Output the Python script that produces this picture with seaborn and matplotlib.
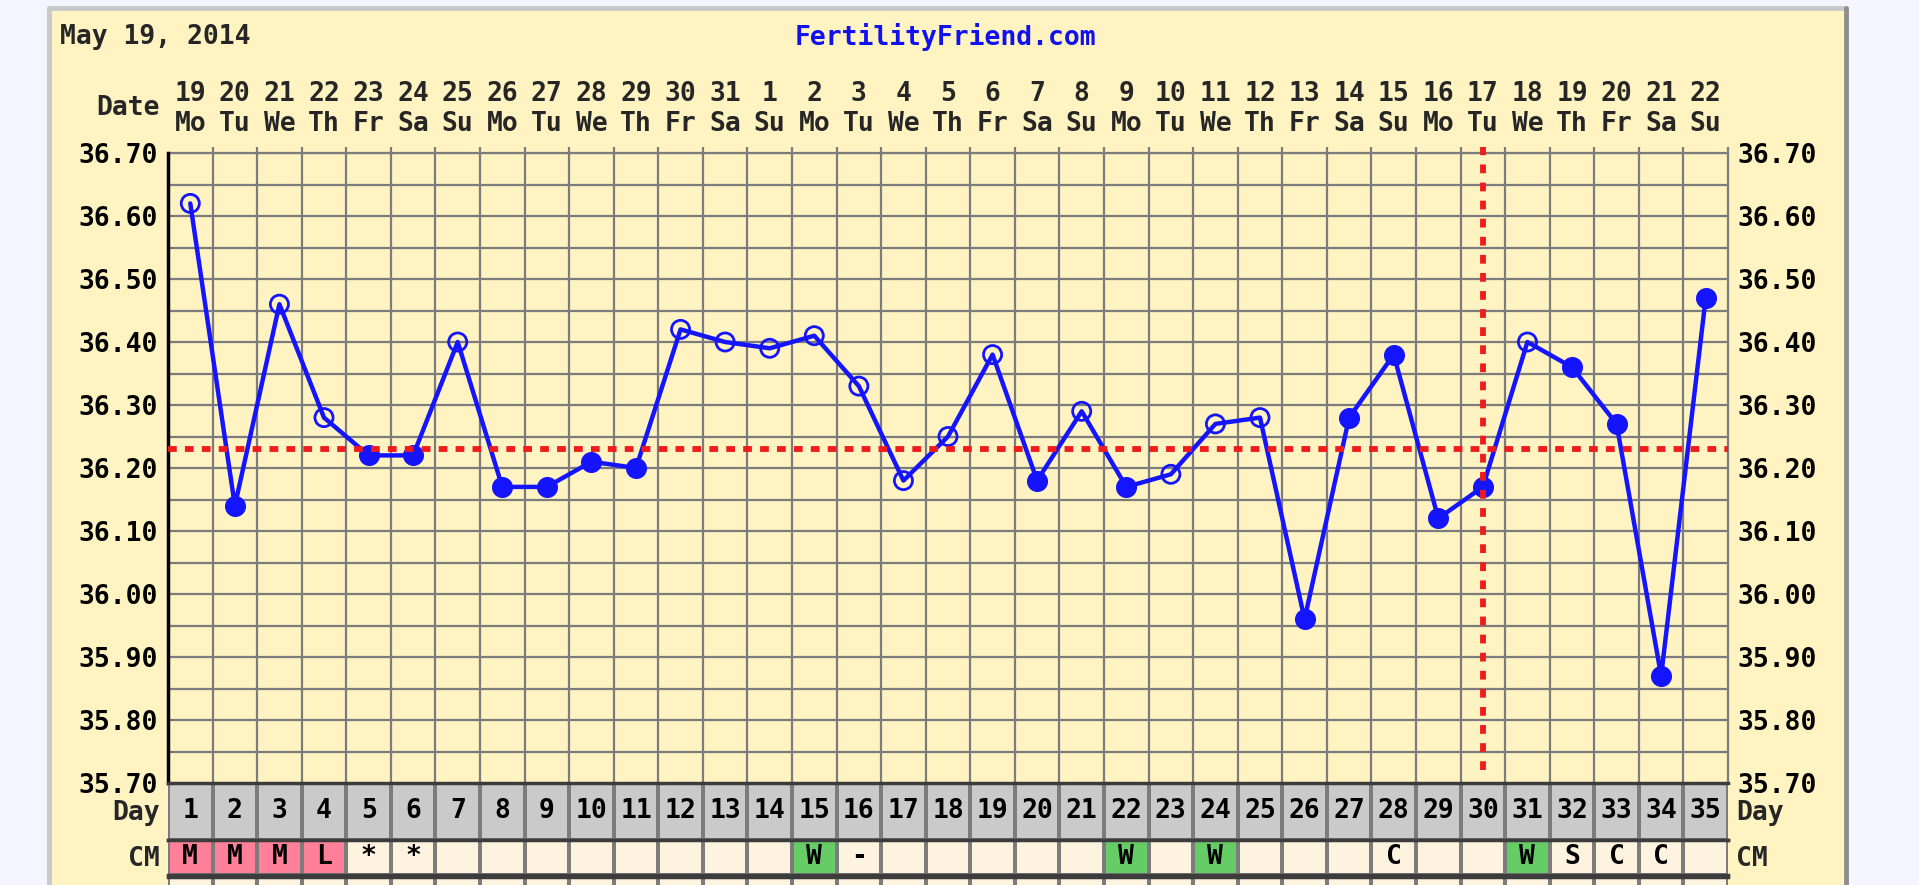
import numpy as np
import pandas as pd
import matplotlib
matplotlib.use("Agg")
import matplotlib.pyplot as plt
import matplotlib.transforms as mtransforms
from matplotlib.colors import ListedColormap
from matplotlib.patches import Rectangle
from matplotlib.lines import Line2D
import seaborn as sns

# ===== DATA (doc tu bieu do) =====
cycle_day = list(range(1, 36))
date_num = [19, 20, 21, 22, 23, 24, 25, 26, 27, 28, 29, 30, 31,
            1, 2, 3, 4, 5, 6, 7, 8, 9, 10, 11, 12, 13, 14, 15, 16, 17, 18, 19, 20, 21, 22]
weekday = ["Mo", "Tu", "We", "Th", "Fr", "Sa", "Su"] * 5
temps = [36.62, 36.14, 36.46, 36.28, 36.22, 36.22, 36.40, 36.17, 36.17, 36.21,
         36.20, 36.42, 36.40, 36.39, 36.41, 36.33, 36.18, 36.25, 36.38, 36.18,
         36.29, 36.17, 36.19, 36.27, 36.28, 35.96, 36.28, 36.38, 36.12, 36.17,
         36.40, 36.36, 36.27, 35.87, 36.47]
# 1 = diem rong (open circle), 0 = diem dac
open_point = [1, 0, 1, 1, 0, 0, 1, 0, 0, 0, 0, 1, 1, 1, 1, 1, 1, 1, 1, 0,
              1, 0, 1, 1, 1, 0, 0, 0, 0, 0, 1, 0, 0, 0, 0]
cm_values = ["M", "M", "M", "L", "*", "*", "", "", "", "", "", "", "", "", "W", "-", "", "",
             "", "", "", "W", "", "W", "", "", "", "C", "", "", "W", "S", "C", "C", ""]
coverline = 36.23
ovulation_day = 30
y_ticks = [35.70, 35.80, 35.90, 36.00, 36.10, 36.20, 36.30, 36.40, 36.50, 36.60, 36.70]

# ===== MAU SAC =====
BG = "#f5f5ff"
PANEL = "#fff3c2"
GRID = "#7c7c7c"
DARK = "#3c3c3c"
BLUE = "#1414ff"
RED = "#f01c1c"
PINK = "#ff8098"
GREEN = "#66cc66"
CM_EMPTY = "#fdf3de"
DAY_GRAY = "#cacaca"

W, H = 1919, 885
FS = 19

sns.set_theme(style="white")
plt.rcParams["font.family"] = ["DejaVu Sans Mono", "DejaVu Sans"]
plt.rcParams["font.weight"] = "bold"

fig = plt.figure(figsize=(W / 100, H / 100), dpi=100, facecolor=BG)


def fx(x):
    return x / W


def fy(y):
    return 1 - y / H


# khung nen mau kem
fig.add_artist(Rectangle((fx(51), fy(885)), fx(1843) - fx(51), fy(11) - fy(885),
                         transform=fig.transFigure, facecolor=PANEL, edgecolor="none", zorder=0))
fig.add_artist(Line2D([fx(49), fx(49)], [fy(885), fy(8)], transform=fig.transFigure, color="#c8c8c8", lw=3.5))
fig.add_artist(Line2D([fx(49), fx(1846)], [fy(8), fy(8)], transform=fig.transFigure, color="#c8c8c8", lw=3.5))
fig.add_artist(Line2D([fx(1846), fx(1846)], [fy(8), fy(885)], transform=fig.transFigure, color="#8e8e8e", lw=3.5))

# ===== BIEU DO NHIET DO =====
left, right, top, bottom = 168, 1728, 153, 783
ax = fig.add_axes([fx(left), fy(bottom), fx(right) - fx(left), fy(top) - fy(bottom)])
ax.set_facecolor("none")
ax.set_xlim(0.5, 35.5)
ax.set_ylim(35.70, 36.70)

# luoi
for yv in np.arange(35.75, 36.70, 0.05):
    ax.axhline(yv, color=GRID, lw=1.6, zorder=1)
ax.axhline(36.70, color=GRID, lw=1.6, zorder=1, clip_on=False)
ax.vlines(np.arange(1.5, 35.6, 1.0), 35.70, 36.71, color=GRID, lw=1.6, zorder=1, clip_on=False)

df = pd.DataFrame({"day": cycle_day, "temp": temps, "open": open_point})
sns.lineplot(data=df, x="day", y="temp", ax=ax, color=BLUE, lw=3.2, zorder=3)
sns.scatterplot(data=df[df["open"] == 0], x="day", y="temp", ax=ax, s=200,
                color=BLUE, edgecolor=BLUE, linewidth=1, zorder=4)
sns.scatterplot(data=df[df["open"] == 1], x="day", y="temp", ax=ax, s=170,
                facecolor="none", edgecolor=BLUE, linewidth=2.0, zorder=4)

# coverline + ngay rung trung
ax.axhline(coverline, color=RED, lw=4.2, dashes=(1.5, 1.4), zorder=5)
ax.vlines(ovulation_day, 35.72, 36.71, color=RED, lw=4.2, linestyles=(0, (1.5, 1.6)), zorder=5, clip_on=False)

ax.set_yticks(y_ticks)
ax.set_yticklabels([f"{v:.2f}" for v in y_ticks])
ax.tick_params(axis="y", length=0, pad=7, labelsize=FS, labelright=True, colors="black")
ax.set_xticks([])
ax.set_xlabel("")
ax.set_ylabel("")
for s in ["top", "right", "bottom"]:
    ax.spines[s].set_visible(False)
ax.spines["left"].set_color("black")
ax.spines["left"].set_linewidth(2.5)

# nhan ngay thang phia tren
tr = mtransforms.blended_transform_factory(ax.transData, fig.transFigure)
for d, dn, wd in zip(cycle_day, date_num, weekday):
    ax.text(d, fy(94), str(dn), transform=tr, ha="center", va="center", fontsize=FS)
    ax.text(d, fy(124), wd, transform=tr, ha="center", va="center", fontsize=FS)
fig.text(fx(160), fy(108), "Date", ha="right", va="center", fontsize=FS)

fig.text(fx(60), fy(37), "May 19, 2014", ha="left", va="center", fontsize=FS)
fig.text(fx(945), fy(37), "FertilityFriend.com", ha="center", va="center",
         fontsize=FS, color="#1010f0")

# ===== HANG DAY / CM =====
rows = [
    # (y tren, y duoi)
    (783, 840),
    (840, 875),
    (877, 895),
]

ax_day = fig.add_axes([fx(left), fy(rows[0][1]), fx(right) - fx(left), fy(rows[0][0]) - fy(rows[0][1])])
sns.heatmap(np.zeros((1, 35)), ax=ax_day, cmap=ListedColormap([DAY_GRAY]), cbar=False,
            annot=np.array([[str(d) for d in cycle_day]]), fmt="",
            annot_kws={"fontsize": FS, "color": "black", "fontweight": "bold"},
            linewidths=1.6, linecolor=GRID, xticklabels=False, yticklabels=False)

cm_code = [[{"M": 1, "L": 1, "W": 2}.get(v, 0) for v in cm_values]]
ax_cm = fig.add_axes([fx(left), fy(rows[1][1]), fx(right) - fx(left), fy(rows[1][0]) - fy(rows[1][1])])
sns.heatmap(np.array(cm_code), ax=ax_cm, cmap=ListedColormap([CM_EMPTY, PINK, GREEN]),
            vmin=-0.5, vmax=2.5, cbar=False,
            annot=np.array([cm_values]), fmt="",
            annot_kws={"fontsize": FS, "color": "black", "fontweight": "bold"},
            linewidths=1.6, linecolor=GRID, xticklabels=False, yticklabels=False)

ax_next = fig.add_axes([fx(left), fy(rows[2][1]), fx(right) - fx(left), fy(rows[2][0]) - fy(rows[2][1])])
sns.heatmap(np.zeros((1, 35)), ax=ax_next, cmap=ListedColormap([CM_EMPTY]), cbar=False,
            linewidths=1.6, linecolor=GRID, xticklabels=False, yticklabels=False)

for a in [ax_day, ax_cm, ax_next]:
    for s in ["top", "bottom"]:
        a.spines[s].set_visible(True)
        a.spines[s].set_color(DARK)
        a.spines[s].set_linewidth(2.5)
    for s in ["left", "right"]:
        a.spines[s].set_visible(False)
    a.set_xlabel("")
    a.set_ylabel("")

for label, (y0, y1) in zip(["Day", "CM"], rows[:2]):
    yc = (y0 + y1) / 2 + 2
    fig.text(fx(160), fy(yc), label, ha="right", va="center", fontsize=FS)
    fig.text(fx(1736), fy(yc), label, ha="left", va="center", fontsize=FS)

fig.savefig("out.png", dpi=100, facecolor=BG)
